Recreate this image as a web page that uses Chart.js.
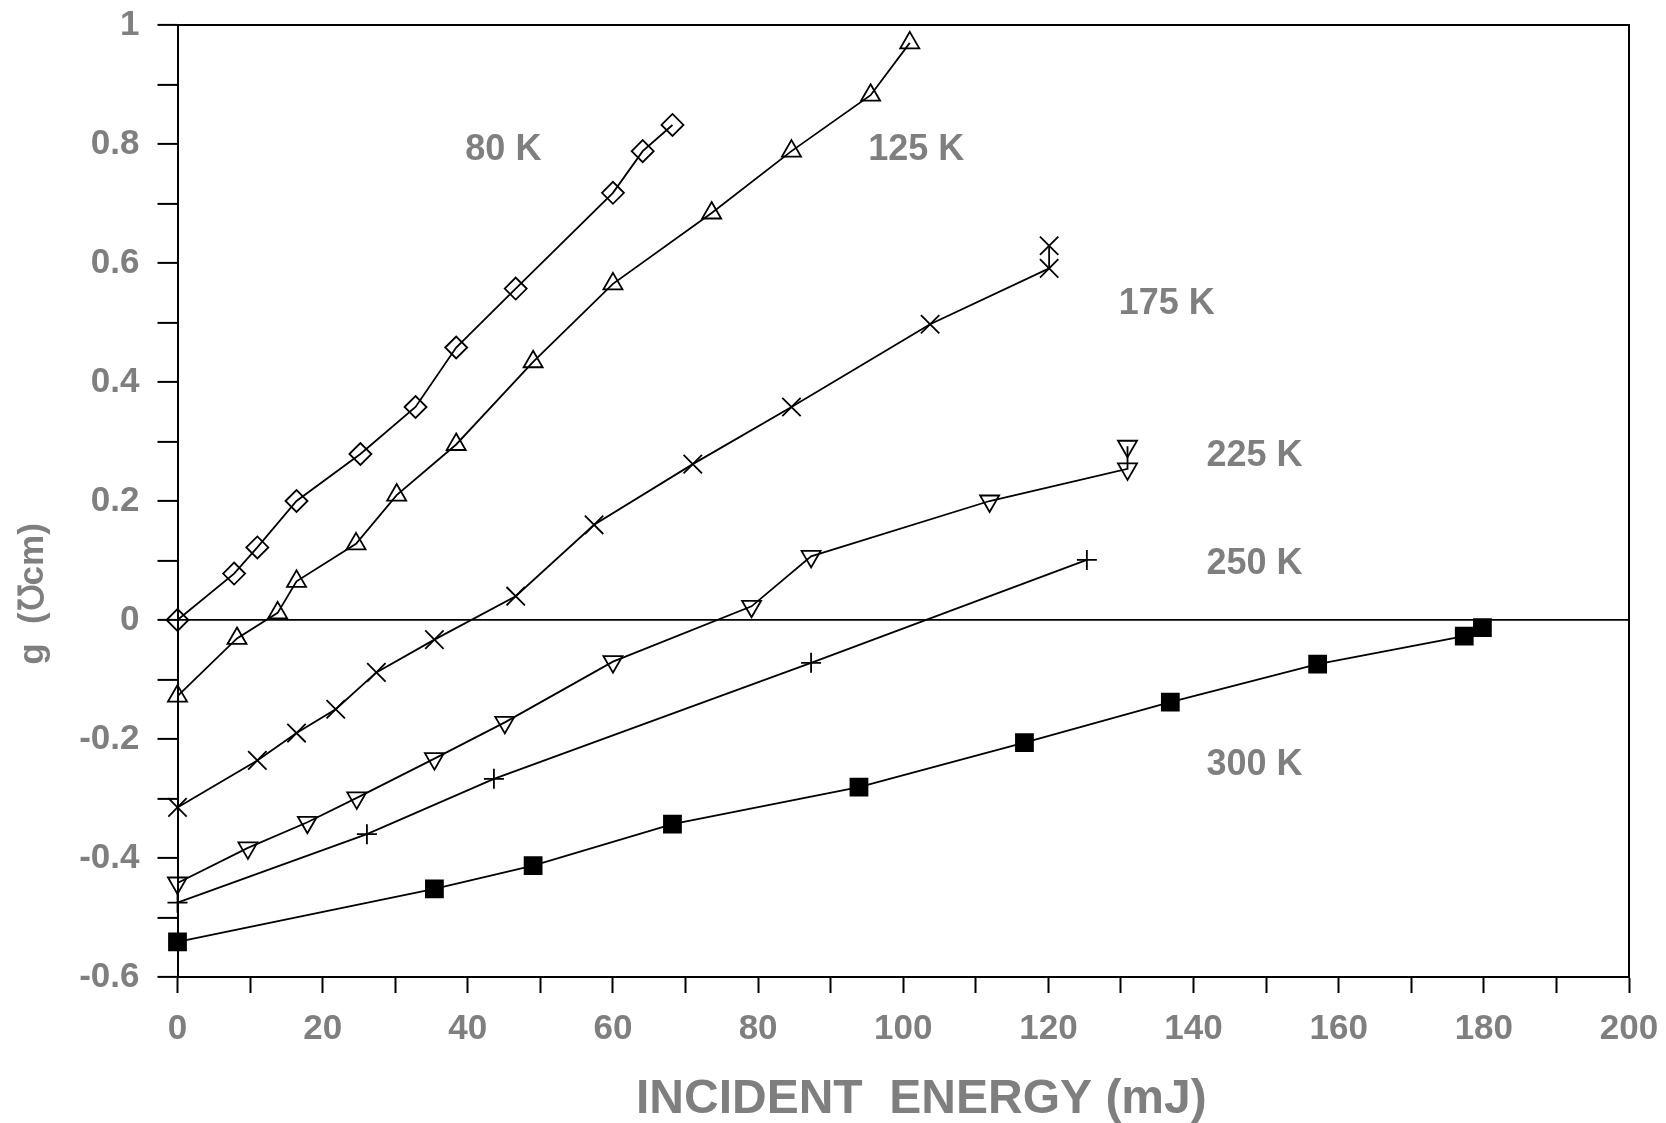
<!DOCTYPE html>
<html>
<head>
<meta charset="utf-8">
<script src="https://cdn.jsdelivr.net/npm/chart.js@4.4.1/dist/chart.umd.min.js"></script>
<style>
html, body { margin: 0; padding: 0; background: #fff; }
#contenedor { width: 1666px; height: 1123px; }
</style>
</head>
<body>
<div id="contenedor"><canvas id="myChart01"></canvas></div>
<script>
// datos
var x80  = [0, 7.8, 11.0, 16.4, 25.2, 32.8, 38.4, 46.6, 60.0, 64.1, 68.2];
var y80  = [0, 0.078, 0.122, 0.200, 0.279, 0.358, 0.458, 0.557, 0.718, 0.788, 0.832];

var x125 = [0, 8.2, 13.8, 16.4, 24.6, 30.2, 38.4, 49.0, 60.0, 73.6, 84.6, 95.5, 100.9];
var y125 = [-0.128, -0.031, 0.012, 0.065, 0.128, 0.210, 0.295, 0.434, 0.565, 0.684, 0.788, 0.882, 0.970];

var x175 = [0, 11.0, 16.4, 21.8, 27.4, 35.4, 46.6, 57.4, 71.0, 84.6, 103.7, 120.1, 120.1];
var y175 = [-0.315, -0.236, -0.190, -0.150, -0.088, -0.033, 0.040, 0.160, 0.262, 0.358, 0.497, 0.591, 0.629];

var x225 = [0, 9.7, 17.9, 24.7, 35.4, 45.1, 60.0, 79.1, 87.3, 111.9, 130.9, 130.9];
var y225 = [-0.442, -0.383, -0.340, -0.299, -0.233, -0.172, -0.070, 0.023, 0.107, 0.200, 0.254, 0.292];

var x250 = [0, 26.1, 43.6, 87.3, 125.3];
var y250 = [-0.475, -0.360, -0.267, -0.072, 0.101];

var x300 = [0, 35.4, 49.0, 68.2, 93.9, 116.7, 136.8, 157.1, 177.3, 179.8];
var y300 = [-0.541, -0.452, -0.413, -0.343, -0.281, -0.206, -0.138, -0.074, -0.027, -0.013];

// etiquetas de temperatura (texto, x, y)
var etiquetas = ['80 K', '125 K', '175 K', '225 K', '250 K', '300 K'];
var etiqX = [44.9, 101.8, 136.3, 148.4, 148.4, 148.4];
var etiqY = [0.790, 0.790, 0.531, 0.275, 0.094, -0.243];

var tituloX = 'INCIDENT  ENERGY (mJ)';
var tituloY = 'g  (\u2127cm)';

var gris = '#7f7f7f';
var fuente = "'Liberation Sans', Arial, sans-serif";

function puntos(xs, ys) {
    return xs.map(function (x, i) { return { x: x, y: ys[i] }; });
}

function serie(xs, ys, estilo, radio, relleno, rotacion) {
    return {
        data: puntos(xs, ys),
        showLine: true,
        borderColor: '#000',
        borderWidth: 1.8,
        pointStyle: estilo,
        pointRadius: radio,
        pointBorderColor: '#000',
        pointBorderWidth: 1.8,
        pointBackgroundColor: relleno,
        pointRotation: rotacion || 0,
        clip: false
    };
}

var marco = {
    id: 'marco',
    afterDraw: function (chart) {
        var ctx = chart.ctx;
        var a = chart.chartArea;
        var sx = chart.scales.x, sy = chart.scales.y;
        ctx.save();
        // borde superior y derecho
        ctx.strokeStyle = '#000';
        ctx.lineWidth = 2;
        ctx.beginPath();
        ctx.moveTo(a.left, a.top);
        ctx.lineTo(a.right, a.top);
        ctx.lineTo(a.right, a.bottom);
        ctx.stroke();

        // etiquetas de temperatura
        ctx.fillStyle = gris;
        ctx.font = 'bold 36px ' + fuente;
        ctx.textAlign = 'center';
        ctx.textBaseline = 'middle';
        etiquetas.forEach(function (t, i) {
            ctx.fillText(t, sx.getPixelForValue(etiqX[i]), sy.getPixelForValue(etiqY[i]));
        });

        // titulo eje x
        ctx.font = 'bold 48px ' + fuente;
        ctx.textAlign = 'left';
        ctx.textBaseline = 'alphabetic';
        ctx.fillText(tituloX, 636, 1113);

        // titulo eje y
        ctx.translate(33, 594);
        ctx.rotate(-Math.PI / 2);
        ctx.font = 'bold 35px ' + fuente;
        ctx.textAlign = 'center';
        ctx.textBaseline = 'middle';
        ctx.fillText(tituloY, 0, 0);
        ctx.restore();
    }
};

var ctx = document.getElementById('myChart01');

var myChart1 = new Chart(ctx, {
    type: 'scatter',
    data: {
        datasets: [
            serie(x80, y80, 'rectRot', 11, 'rgba(0,0,0,0)'),
            serie(x125, y125, 'triangle', 11, 'rgba(0,0,0,0)'),
            serie(x175, y175, 'crossRot', 13, 'rgba(0,0,0,0)'),
            serie(x225, y225, 'triangle', 11, 'rgba(0,0,0,0)', 180),
            serie(x250, y250, 'cross', 10, 'rgba(0,0,0,0)'),
            serie(x300, y300, 'rect', 12, '#000')
        ]
    },
    options: {
        responsive: true,
        maintainAspectRatio: false,
        animation: false,
        layout: { padding: { top: 25, right: 37, left: 0, bottom: 0 } },
        plugins: {
            legend: { display: false },
            tooltip: { enabled: false }
        },
        scales: {
            x: {
                type: 'linear',
                min: 0,
                max: 200,
                ticks: {
                    stepSize: 10,
                    autoSkip: false,
                    maxRotation: 0,
                    color: gris,
                    padding: 15,
                    font: { family: fuente, size: 35, weight: 'bold' },
                    callback: function (v) { return Math.round(v) % 20 === 0 ? String(Math.round(v)) : ''; }
                },
                grid: {
                    drawOnChartArea: false,
                    tickLength: 16,
                    tickColor: '#000',
                    tickWidth: 2
                },
                border: { color: '#000', width: 2 },
                afterFit: function (s) {
                    s.height = 146;
                    s.paddingLeft = 0;
                    s.paddingRight = 0;
                }
            },
            y: {
                min: -0.6,
                max: 1,
                ticks: {
                    stepSize: 0.1,
                    autoSkip: false,
                    color: gris,
                    padding: 18,
                    font: { family: fuente, size: 35, weight: 'bold' },
                    callback: function (v) {
                        var k = Math.round(v * 10);
                        if (k % 2 !== 0) return '';
                        return String(k / 10);
                    }
                },
                grid: {
                    color: function (c) {
                        return (c.tick && Math.abs(c.tick.value) < 1e-9) ? '#000' : 'rgba(0,0,0,0)';
                    },
                    lineWidth: 1.8,
                    tickLength: 20,
                    tickColor: '#000',
                    tickWidth: 2
                },
                border: { color: '#000', width: 2 },
                afterFit: function (s) {
                    s.width = 177.5;
                    s.paddingTop = 0;
                    s.paddingBottom = 0;
                }
            }
        }
    },
    plugins: [marco]
});
</script>
</body>
</html>
